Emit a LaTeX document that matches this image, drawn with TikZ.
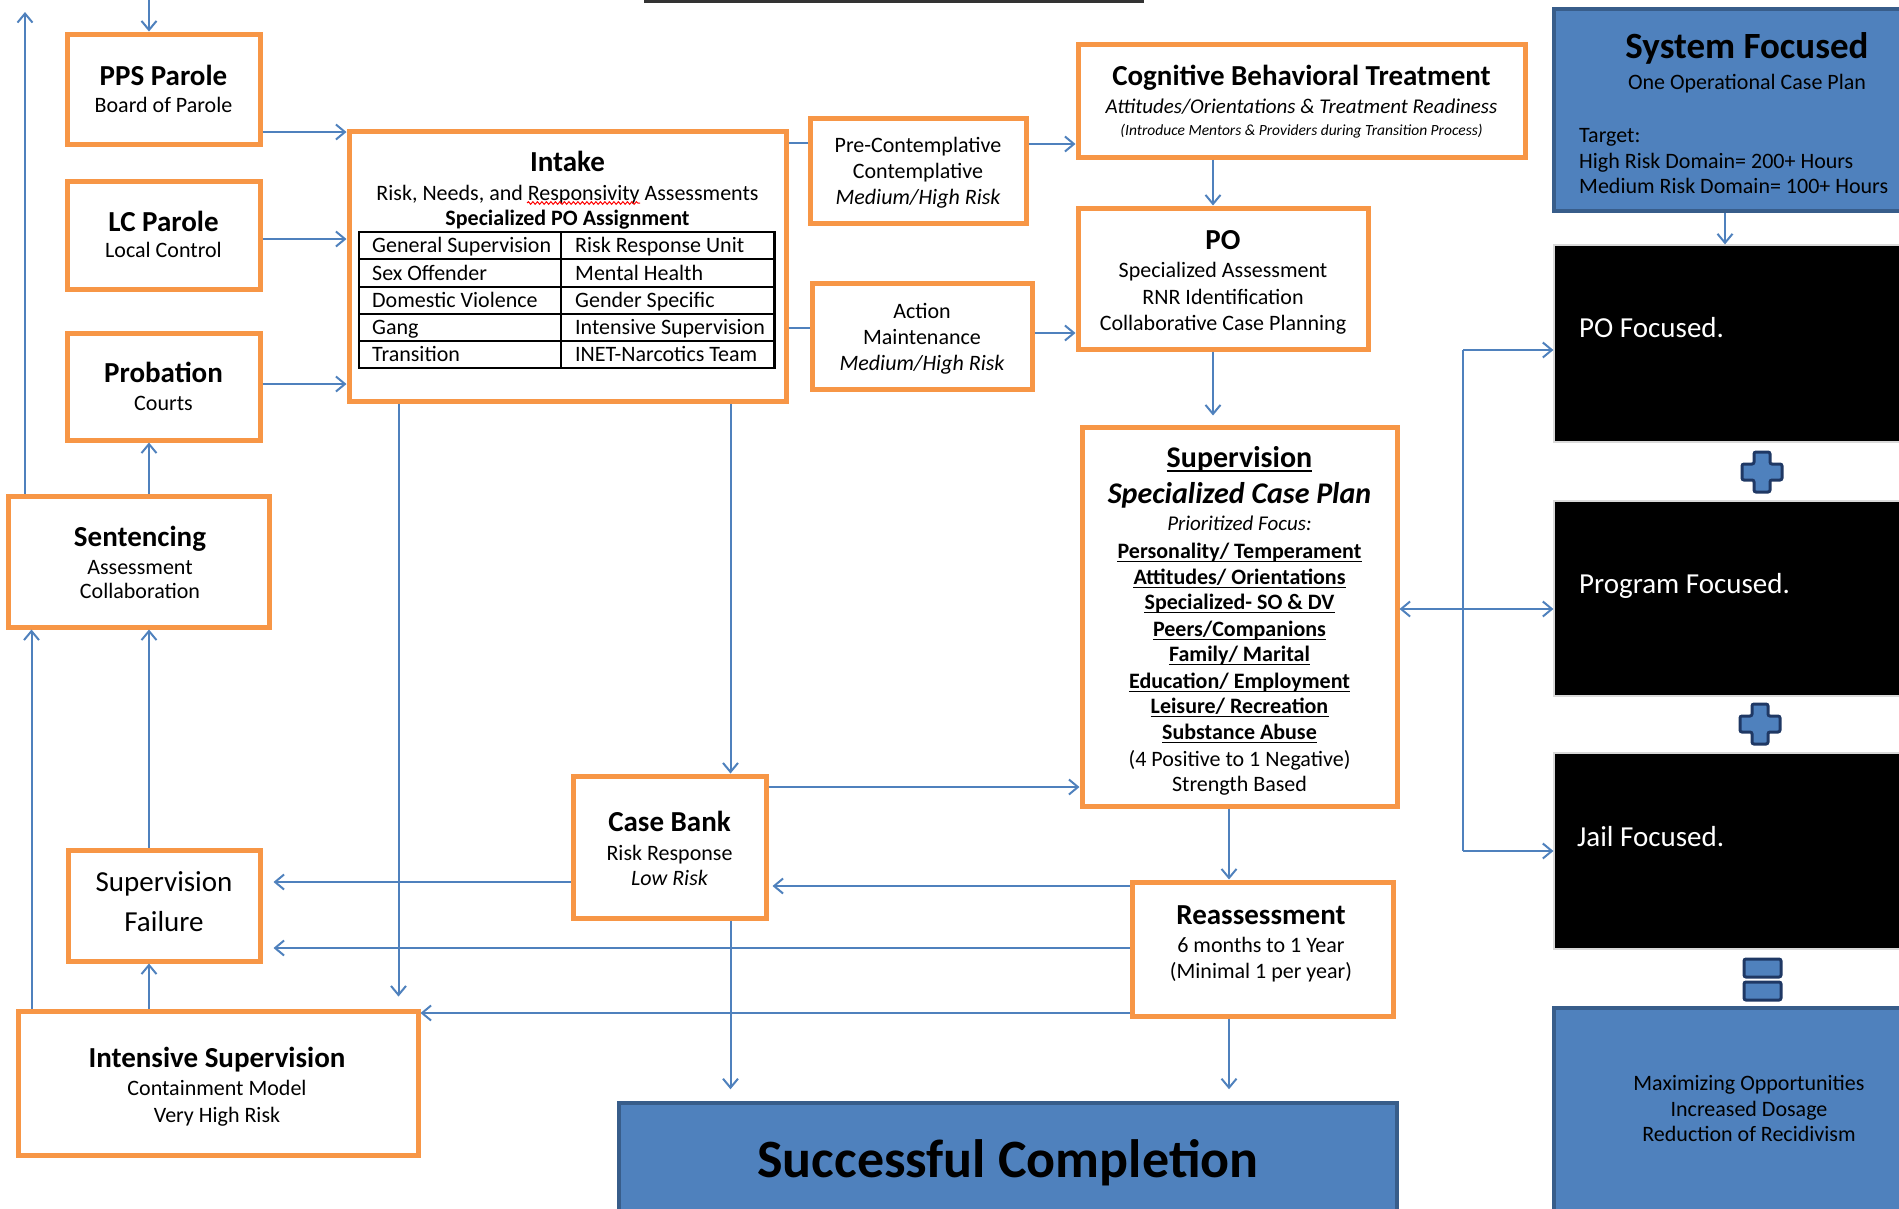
\documentclass[tikz,border=0pt]{standalone}
\usepackage{fontspec}
\setmainfont{Carlito}
\usetikzlibrary{arrows.meta,decorations.pathmorphing}
\definecolor{orangeC}{HTML}{F79646}
\definecolor{blueC}{HTML}{4F81BD}
\definecolor{blueD}{HTML}{385D8A}
\definecolor{navyC}{HTML}{1F3864}
\newcommand\ulline[2]{\draw[line width=#2] ([yshift=-3.5pt]#1.base west) -- ([yshift=-3.5pt]#1.base east);}
\begin{document}
\begin{tikzpicture}[x=1pt,y=-1pt,
  obox/.style={draw=orangeC, line width=5pt, fill=white, inner sep=0pt},
  bbox/.style={draw=blueD, line width=3.5pt, fill=blueC, inner sep=0pt},
  kbox/.style={draw=black!15, line width=1.2pt, fill=black, inner sep=0pt},
  conn/.style={draw=blueC, line width=2pt},
  arr/.style={conn, -{Straight Barb[length=9pt,width=15pt]}},
  arrb/.style={conn, {Straight Barb[length=9pt,width=15pt]}-{Straight Barb[length=9pt,width=15pt]}},
  signst/.style={draw=navyC, line width=3pt, fill=blueC, rounded corners=2pt},
  lb/.style={inner sep=0pt, text depth=0pt},
  r22/.style={lb, font=\fontsize{22}{26}\selectfont, text height=14pt},
  i22/.style={lb, font=\itshape\fontsize{22}{26}\selectfont, text height=14pt},
  b22/.style={lb, font=\bfseries\fontsize{22}{26}\selectfont, text height=14pt},
  i21/.style={lb, font=\itshape\fontsize{21}{25}\selectfont, text height=13.4pt},
  i15/.style={lb, font=\itshape\fontsize{15.5}{18}\selectfont, text height=10pt},
  b29/.style={lb, font=\bfseries\fontsize{29}{34}\selectfont, text height=18.5pt},
  r29/.style={lb, font=\fontsize{29}{34}\selectfont, text height=18.5pt},
  w29/.style={r29, text=white},
  b30/.style={lb, font=\bfseries\fontsize{30}{35}\selectfont, text height=19pt},
  bi30/.style={lb, font=\bfseries\itshape\fontsize{30}{35}\selectfont, text height=19pt},
  b37/.style={lb, font=\bfseries\fontsize{37}{42}\selectfont, text height=23.5pt},
  b54/.style={lb, font=\bfseries\fontsize{54}{60}\selectfont, text height=34.5pt}
]
\useasboundingbox (0,0) rectangle (1899,1208);
\clip (0,0) rectangle (1899,1208);

% top rule
\draw[line width=3pt, black!80] (644,1.5) -- (1144,1.5);

% ---------- orange boxes ----------
\node[obox, minimum width=193pt, minimum height=110pt] (pps) at (163.5,89) {};
\node[obox, minimum width=193pt, minimum height=108pt] (lc) at (163.5,235) {};
\node[obox, minimum width=193pt, minimum height=107pt] (prob) at (163.5,386.5) {};
\node[obox, minimum width=261pt, minimum height=131pt] (sent) at (138.5,561.5) {};
\node[obox, minimum width=437pt, minimum height=270pt] (intake) at (567.5,266) {};
\node[obox, minimum width=216pt, minimum height=105pt] (pre) at (918,170.5) {};
\node[obox, minimum width=220pt, minimum height=106pt] (action) at (922,336) {};
\node[obox, minimum width=447pt, minimum height=113pt] (cbt) at (1301.5,100.5) {};
\node[obox, minimum width=290pt, minimum height=141pt] (po) at (1223,278.5) {};
\node[obox, minimum width=315pt, minimum height=379pt] (sup) at (1239.5,616.5) {};
\node[obox, minimum width=193pt, minimum height=142pt] (cb) at (669.5,847) {};
\node[obox, minimum width=261pt, minimum height=134pt] (reas) at (1262.5,949) {};
\node[obox, minimum width=192pt, minimum height=111pt] (sf) at (164,905.5) {};
\node[obox, minimum width=400pt, minimum height=144pt] (intens) at (218,1083) {};

% ---------- blue / black boxes ----------
\node[bbox, minimum width=778pt, minimum height=117pt] (succ) at (1008,1161.5) {};
\node[bbox, minimum width=351pt, minimum height=202pt] (sys) at (1729.5,110) {};
\node[kbox, minimum width=351pt, minimum height=197pt] (pof) at (1729.5,343.5) {};
\node[kbox, minimum width=351pt, minimum height=195pt] (prog) at (1729.5,598.5) {};
\node[kbox, minimum width=351pt, minimum height=196pt] (jail) at (1729.5,851) {};
\node[bbox, minimum width=351pt, minimum height=212pt] (maxb) at (1729.5,1114) {};

% ---------- intake table ----------
\draw[line width=2.5pt] (359,232) rectangle (774.5,368);
\foreach \yy in {259,287,314,341} \draw[line width=2pt] (359,\yy) -- (774.5,\yy);
\draw[line width=2pt] (561,232) -- (561,368);

% ---------- texts ----------
\node[b29] (ppsA) at (163.5,76) {PPS Parole};
\node[r22] (ppsB) at (163.5,105) {Board of Parole};
\node[b29] (lcA) at (163.5,222) {LC Parole};
\node[r22] (lcB) at (163.5,250) {Local Control};
\node[b29] (prA) at (163.5,373) {Probation};
\node[r22] (prB) at (163.5,403) {Courts};
\node[b29] (seA) at (140,537) {Sentencing};
\node[r22] (seB) at (140,567) {Assessment};
\node[r22] (seC) at (140,591) {Collaboration};

\node[b29] (inA) at (567.5,162) {Intake};
\node[r22] (inB) at (567.5,193) {Risk, Needs, and Responsivity Assessments};
\draw[red, line width=1pt, decorate, decoration={snake, amplitude=1.3pt, segment length=4.5pt}] (527,203) -- (640,203);
\node[b22] (inC) at (567.5,218) {Specialized PO Assignment};
\node[r22, anchor=west] (c11) at (372,245.5) {General Supervision};
\node[r22, anchor=west] (c12) at (575,245.5) {Risk Response Unit};
\node[r22, anchor=west] (c21) at (372,273) {Sex Offender};
\node[r22, anchor=west] (c22) at (575,273) {Mental Health};
\node[r22, anchor=west] (c31) at (372,300.5) {Domestic Violence};
\node[r22, anchor=west] (c32) at (575,300.5) {Gender Specific};
\node[r22, anchor=west] (c41) at (372,327.5) {Gang};
\node[r22, anchor=west] (c42) at (575,327.5) {Intensive Supervision};
\node[r22, anchor=west] (c51) at (372,354.5) {Transition};
\node[r22, anchor=west] (c52) at (575,354.5) {INET-Narcotics Team};

\node[r22] (preA) at (918,145) {Pre-Contemplative};
\node[r22] (preB) at (918,171) {Contemplative};
\node[i22] (preC) at (918,197) {Medium/High Risk};
\node[r22] (acA) at (922,311) {Action};
\node[r22] (acB) at (922,337) {Maintenance};
\node[i22] (acC) at (922,363) {Medium/High Risk};

\node[b29] (cbtA) at (1301.5,76) {Cognitive Behavioral Treatment};
\node[i21] (cbtB) at (1301.5,107) {Attitudes/Orientations \& Treatment Readiness};
\node[i15] (cbtC) at (1301.5,130) {(Introduce Mentors \& Providers during Transition Process)};

\node[b29] (poA) at (1223,240) {PO};
\node[r22] (poB) at (1223,270) {Specialized Assessment};
\node[r22] (poC) at (1223,297) {RNR Identification};
\node[r22] (poD) at (1223,323) {Collaborative Case Planning};

\node[b30] (suA) at (1239.5,458) {Supervision};
\ulline{suA}{2pt}
\node[bi30] (suB) at (1239.5,494) {Specialized Case Plan};
\node[i21] (suC) at (1239.5,524) {Prioritized Focus:};
\node[b22] (suD) at (1239.5,551) {Personality/ Temperament};
\ulline{suD}{1.6pt}
\node[b22] (suE) at (1239.5,577) {Attitudes/ Orientations};
\ulline{suE}{1.6pt}
\node[b22] (suF) at (1239.5,602) {Specialized- SO \& DV};
\ulline{suF}{1.6pt}
\node[b22] (suG) at (1239.5,629) {Peers/Companions};
\ulline{suG}{1.6pt}
\node[b22] (suH) at (1239.5,654) {Family/ Marital};
\ulline{suH}{1.6pt}
\node[b22] (suI) at (1239.5,681) {Education/ Employment};
\ulline{suI}{1.6pt}
\node[b22] (suJ) at (1239.5,706) {Leisure/ Recreation};
\ulline{suJ}{1.6pt}
\node[b22] (suK) at (1239.5,732) {Substance Abuse};
\ulline{suK}{1.6pt}
\node[r22] (suL) at (1239.5,759) {(4 Positive to 1 Negative)};
\node[r22] (suM) at (1239.5,784) {Strength Based};

\node[b29] (cbA) at (669.5,822) {Case Bank};
\node[r22] (cbB) at (669.5,853) {Risk Response};
\node[i22] (cbC) at (669.5,878) {Low Risk};

\node[b29] (reA) at (1261,915) {Reassessment};
\node[r22] (reB) at (1261,945) {6 months to 1 Year};
\node[r22] (reC) at (1261,971) {(Minimal 1 per year)};

\node[r29] (sfA) at (164,882) {Supervision};
\node[r29] (sfB) at (164,922) {Failure};

\node[b29] (isA) at (217,1058) {Intensive Supervision};
\node[r22] (isB) at (217,1088) {Containment Model};
\node[r22] (isC) at (217,1115) {Very High Risk};

\node[b54] (scA) at (1008,1160) {Successful Completion};

\node[b37] (syA) at (1747,47) {System Focused};
\node[r22] (syB) at (1747,82) {One Operational Case Plan};
\node[r22, anchor=west] (syC) at (1579,135) {Target:};
\node[r22, anchor=west] (syD) at (1579,161) {High Risk Domain= 200+ Hours};
\node[r22, anchor=west] (syE) at (1579,186) {Medium Risk Domain= 100+ Hours};

\node[w29, anchor=west] (pofA) at (1579,328) {PO Focused.};
\node[w29, anchor=west] (progA) at (1579,584) {Program Focused.};
\node[w29, anchor=west] (jailA) at (1577,837) {Jail Focused.};

\node[r22] (mxA) at (1749,1083) {Maximizing Opportunities};
\node[r22] (mxB) at (1749,1109) {Increased Dosage};
\node[r22] (mxC) at (1749,1134) {Reduction of Recidivism};

% ---------- plus / equals signs ----------
\begin{scope}[shift={(1762,472)}]
\draw[signst] (-8,-20) -- (8,-20) -- (8,-8) -- (20,-8) -- (20,8) -- (8,8) -- (8,20) -- (-8,20) -- (-8,8) -- (-20,8) -- (-20,-8) -- (-8,-8) -- cycle;
\end{scope}
\begin{scope}[shift={(1760,724)}]
\draw[signst] (-8,-20) -- (8,-20) -- (8,-8) -- (20,-8) -- (20,8) -- (8,8) -- (8,20) -- (-8,20) -- (-8,8) -- (-20,8) -- (-20,-8) -- (-8,-8) -- cycle;
\end{scope}
\draw[signst] (1744,959) rectangle (1781,977);
\draw[signst] (1744,982) rectangle (1781,1000);

% ---------- connectors ----------
\coordinate (kTop) at (149,0);
\coordinate (kLeft) at (25,12);
\coordinate (kLeftB) at (31.5,0);
\coordinate (y1) at (0,132);
\coordinate (y2) at (0,239);
\coordinate (y3) at (0,384);
\coordinate (y5) at (0,143);
\coordinate (y6) at (0,144);
\coordinate (y7) at (0,328);
\coordinate (y8) at (0,333);
\coordinate (x9) at (1213,0);
\coordinate (x11) at (730.5,0);
\coordinate (x12) at (398.5,0);
\coordinate (y13) at (0,787);
\coordinate (y14) at (0,882);
\coordinate (y15) at (0,886);
\coordinate (y16) at (0,948);
\coordinate (y17) at (0,1013);
\coordinate (x19) at (1229,0);
\coordinate (x24) at (1725,0);
\coordinate (b1) at (1463,350);
\coordinate (b2) at (1463,851);
\coordinate (b3) at (1463,609);

\draw[arr] (kTop) -- (kTop |- pps.north);
\draw[arr] (kLeft |- sent.north) -- (kLeft);
\draw[arr] (pps.east |- y1) -- (intake.west |- y1);
\draw[arr] (lc.east |- y2) -- (intake.west |- y2);
\draw[arr] (prob.east |- y3) -- (intake.west |- y3);
\draw[arr] (kTop |- sent.north) -- (kTop |- prob.south);
\draw[conn] (intake.east |- y5) -- (pre.west |- y5);
\draw[arr] (pre.east |- y6) -- (cbt.west |- y6);
\draw[conn] (intake.east |- y7) -- (action.west |- y7);
\draw[arr] (action.east |- y8) -- (po.west |- y8);
\draw[arr] (x9 |- cbt.south) -- (x9 |- po.north);
\draw[arr, shorten >=9pt] (x9 |- po.south) -- (x9 |- sup.north);
\draw[arr] (x11 |- intake.south) -- (x11 |- cb.north);
\draw[arr, shorten >=12pt] (x12 |- intake.south) -- (x12 |- intens.north);
\draw[arr] (cb.east |- y13) -- (sup.west |- y13);
\draw[arr, shorten >=11pt] (cb.west |- y14) -- (sf.east |- y14);
\draw[arr, shorten >=4pt] (reas.west |- y15) -- (cb.east |- y15);
\draw[arr, shorten >=11pt] (reas.west |- y16) -- (sf.east |- y16);
\draw[arr] (reas.west |- y17) -- (intens.east |- y17);
\draw[arr, shorten >=12pt] (x11 |- cb.south) -- (x11 |- succ.north);
\draw[arr] (x19 |- sup.south) -- (x19 |- reas.north);
\draw[arr, shorten >=12pt] (x19 |- reas.south) -- (x19 |- succ.north);
\draw[arr] (kTop |- sf.north) -- (kTop |- sent.south);
\draw[arr] (kTop |- intens.north) -- (kTop |- sf.south);
\draw[arr] (kLeftB |- intens.north) -- (kLeftB |- sent.south);
\draw[arr] (x24 |- sys.south) -- (x24 |- pof.north);
\draw[conn] (b1) -- (b2);
\draw[arr] (b1) -- (pof.west |- b1);
\draw[arr] (b2) -- (jail.west |- b2);
\draw[arrb] (sup.east |- b3) -- (prog.west |- b3);
\end{tikzpicture}
\end{document}
